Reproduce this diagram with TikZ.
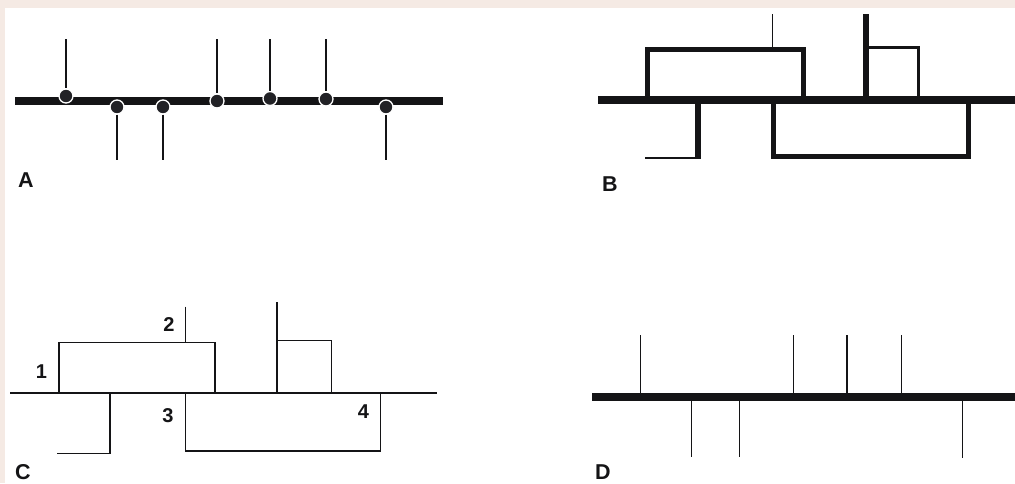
\documentclass[tikz,border=0pt]{standalone}
\usepackage{fontspec}
\setmainfont{Liberation Sans}
\definecolor{paper}{RGB}{245,234,228}
\definecolor{ink}{RGB}{20,20,22}
\definecolor{dotfill}{RGB}{34,34,38}
\begin{document}
\begin{tikzpicture}[x=1pt,y=-1pt,
  thin stroke/.style={draw=ink,line width=1.5pt},
  heavy/.style={draw=ink,line width=#1},
  heavy/.default=8pt,
  site/.style={circle,fill=dotfill,draw=white,line width=1.3pt,minimum size=14pt,inner sep=0pt},
  panel label/.style={font=\bfseries\fontsize{21.5}{21.5}\selectfont,inner sep=0pt,text=ink},
  num label/.style={font=\bfseries\fontsize{20}{20}\selectfont,inner sep=0pt,text=ink}]
% frame
\useasboundingbox (0,0) rectangle (1015,483);
\fill[paper] (0,0) rectangle (1015,483);
\fill[white] (5,8) rectangle (1015,483);

% ---------- panel A ----------
\draw[heavy=7.5pt] (15,101) -- (443,101);
\foreach \n/\x/\y in {a1/66/96,a4/217/101,a5/270/98.5,a6/326/99}{
  \coordinate (\n top) at (\x,39);
  \node[site] (\n) at (\x,\y) {};
  \draw[thin stroke] (\n top) -- (\n.north);
}
\foreach \n/\x/\y in {a2/117/107,a3/163/107,a7/386/107}{
  \coordinate (\n bot) at (\x,160);
  \node[site] (\n) at (\x,\y) {};
  \draw[thin stroke] (\n.south) -- (\n bot);
}
\node[panel label] (labA) at (26,180.5) {A};

% ---------- panel B ----------
\draw[thin stroke] (772.5,14) -- (772.5,49);
\draw[heavy=5pt] (647,100) -- (647,49.5) -- (803,49.5) -- (803,100);
\draw[heavy=3pt] (866,47.5) -- (918.5,47.5) -- (918.5,100);
\draw[heavy=6pt] (866,14) -- (866,100);
\draw[thin stroke] (645,158) -- (698,158);
\draw[heavy=6pt] (698,100) -- (698,159);
\draw[heavy=5pt] (773.5,100) -- (773.5,156) -- (968.5,156) -- (968.5,100);
\draw[heavy=8pt] (598,100) -- (1015,100);
\node[panel label] (labB) at (610,184) {B};

% ---------- panel C ----------
\draw[thin stroke] (10,393) -- (437,393);
\draw[thin stroke] (59,393) -- (59,342.5) -- (215,342.5) -- (215,393);
\draw[thin stroke] (185.5,306.5) -- (185.5,342.5);
\draw[thin stroke] (277,302) -- (277,393);
\draw[thin stroke] (277,340.5) -- (331.5,340.5) -- (331.5,393);
\draw[thin stroke] (57,453.5) -- (110,453.5) -- (110,393);
\draw[thin stroke] (185.5,393) -- (185.5,451) -- (380.5,451) -- (380.5,393);
\node[num label] (n1) at (41.5,372) {1};
\node[num label] (n2) at (169,325) {2};
\node[num label] (n3) at (168,415.5) {3};
\node[num label] (n4) at (363.5,411.5) {4};
\node[panel label] (labC) at (23,472.5) {C};

% ---------- panel D ----------
\foreach \x in {640.5,793.5,847,901.5}{
  \draw[thin stroke] (\x,335) -- (\x,397);
}
\foreach \x/\e in {691.5/456.5,739.5/456.5,962.5/458}{
  \draw[thin stroke] (\x,397) -- (\x,\e);
}
\draw[heavy=8pt] (592,396.5) -- (1015,396.5);
\node[panel label] (labD) at (603,472) {D};
\end{tikzpicture}
\end{document}
